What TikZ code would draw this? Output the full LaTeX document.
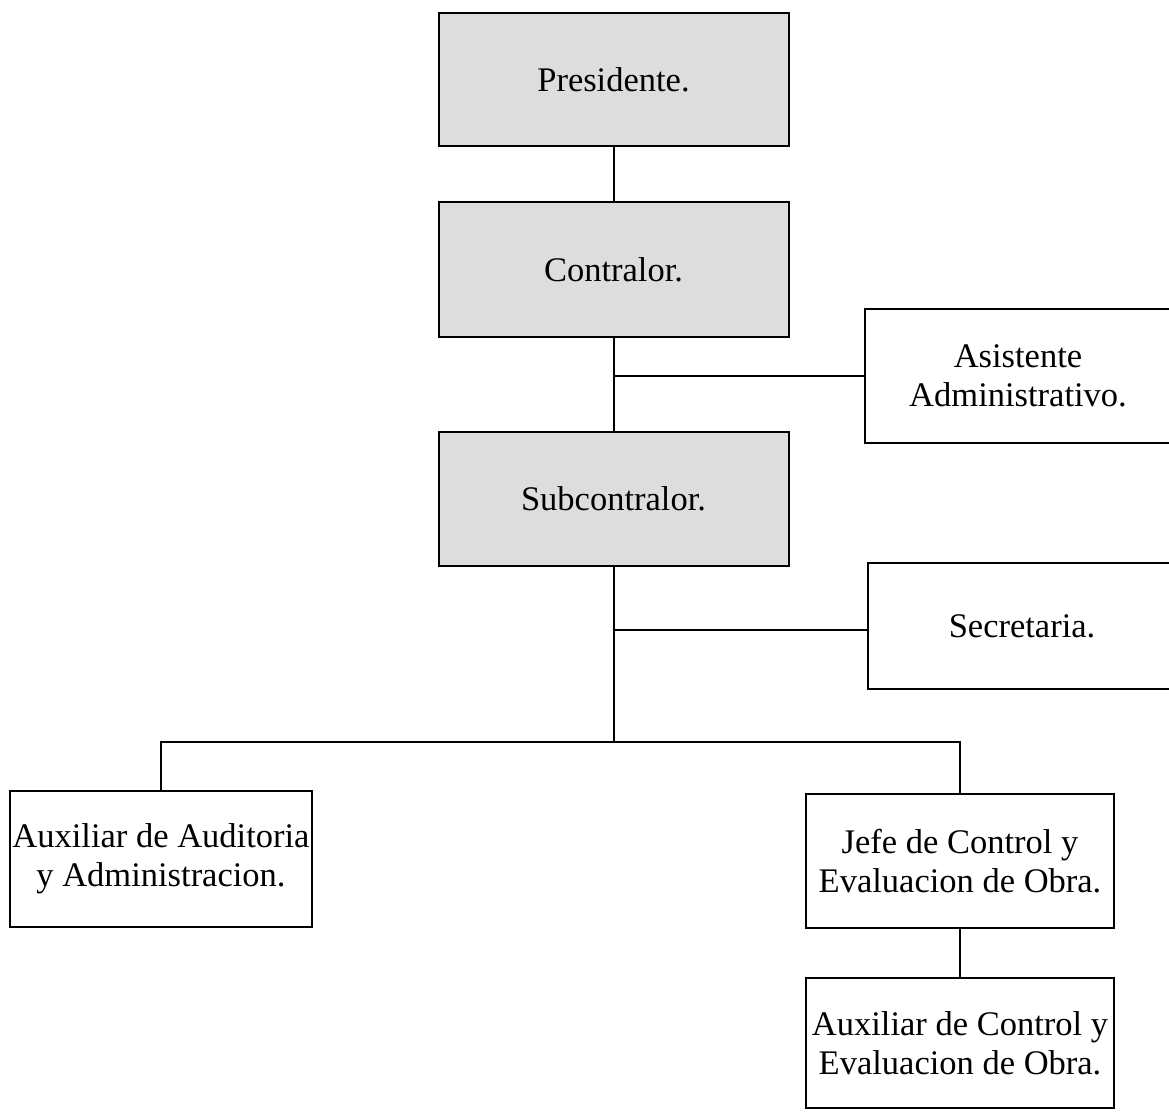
\documentclass[tikz,border=0pt]{standalone}
\usepackage{fontspec}
\setmainfont{Liberation Serif}
\definecolor{boxgray}{RGB}{221,221,221}
\begin{document}
\begin{tikzpicture}[x=1pt,y=-1pt,
  post/.style={draw=black, line width=2pt, rectangle, align=center,
    font=\fontsize{34.5}{39}\selectfont, inner sep=0pt},
  headpost/.style={post, fill=boxgray},
  link/.style={draw=black, line width=2pt}]
\path[use as bounding box, clip] (0,0) rectangle (1169,1111);
\fill[white] (0,0) rectangle (1169,1111);

% upper chain of command
\node[headpost, minimum width=350pt, minimum height=133pt] (pres) at (613.5,79.5) {Presidente.};
\node[headpost, minimum width=350pt, minimum height=135pt] (contr) at (613.5,269.5) {Contralor.};
\node[headpost, minimum width=350pt, minimum height=134pt] (sub) at (613.5,499) {Subcontralor.};

% staff positions on the right
\node[post, fill=white, minimum width=306pt, minimum height=134pt] (asist) at (1018,376) {Asistente\\Administrativo.};
\node[post, fill=white, minimum width=308pt, minimum height=126pt] (secr) at (1022,626) {Secretaria.};

% lower level
\node[post, fill=white, minimum width=302pt, minimum height=136pt] (auxaud) at (161,859) {Auxiliar de Auditoria\\y Administracion.};
\node[post, fill=white, minimum width=308pt, minimum height=134pt] (jefe) at (960,861) {Jefe de Control y\\Evaluacion de Obra.};
\node[post, fill=white, minimum width=308pt, minimum height=130pt] (auxctl) at (960,1043) {Auxiliar de Control y\\Evaluacion de Obra.};

% junction points on the main vertical line
\coordinate (jA) at (613.5,376);
\coordinate (jS) at (613.5,630);
\coordinate (jB) at (613.5,742);

\draw[link] (pres.south) -- (contr.north);
\draw[link] (contr.south) -- (sub.north);
\draw[link] (jA) -- (asist.west |- jA);
\draw[link] (sub.south) -- (jB);
\draw[link] (jS) -- (secr.west |- jS);
\draw[link] (auxaud.north) |- (jB) -| (jefe.north);
\draw[link] (jefe.south) -- (auxctl.north);
\end{tikzpicture}
\end{document}
